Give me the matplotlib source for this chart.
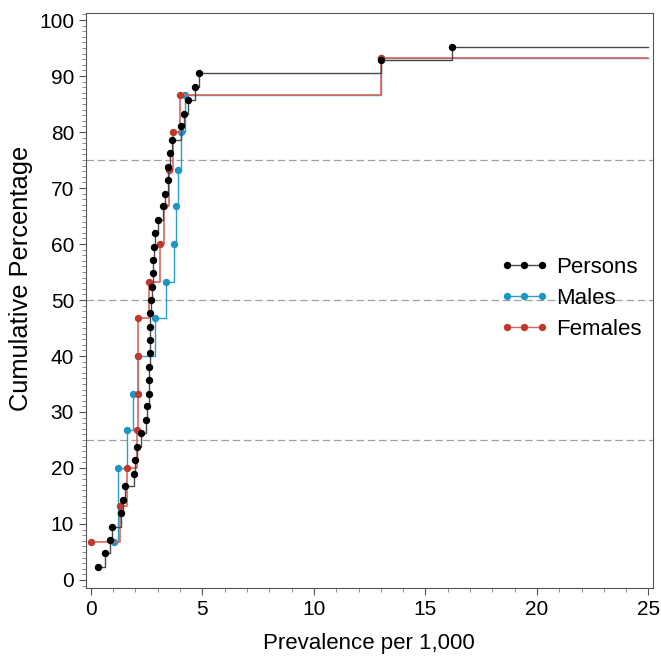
import matplotlib
matplotlib.use("Agg")
import matplotlib.pyplot as plt
import matplotlib.ticker as ticker

plt.rcParams["font.family"] = ["Liberation Sans", "DejaVu Sans"]

# prevalence per 1,000 (x) and cumulative percentage (y)
persons_x = [0.32, 0.62, 0.87, 0.95, 1.37, 1.42, 1.52, 1.94, 2.0, 2.05,
             2.23, 2.49, 2.52, 2.61, 2.61, 2.61, 2.65, 2.65, 2.65, 2.65,
             2.70, 2.72, 2.77, 2.77, 2.83, 2.88, 3.02, 3.24, 3.32, 3.44,
             3.47, 3.54, 3.62, 4.04, 4.18, 4.36, 4.66, 4.84, 13.0, 16.2]
persons_y = [2.4, 4.8, 7.1, 9.5, 11.9, 14.3, 16.7, 19.0, 21.4, 23.8,
             26.2, 28.6, 31.0, 33.3, 35.7, 38.1, 40.5, 42.9, 45.2, 47.6,
             50.0, 52.4, 54.8, 57.1, 59.5, 61.9, 64.3, 66.7, 69.0, 71.4,
             73.8, 76.2, 78.6, 81.0, 83.3, 85.7, 88.1, 90.5, 92.9, 95.2]

males_x = [1.05, 1.22, 1.63, 1.91, 2.12, 2.89, 3.36, 3.74, 3.84, 3.91,
           4.03, 4.20, 13.0]
males_y = [6.7, 20.0, 26.7, 33.3, 40.0, 46.7, 53.3, 60.0, 66.7, 73.3,
           80.0, 86.7, 93.3]

females_x = [0.0, 1.30, 1.64, 2.05, 2.12, 2.12, 2.12, 2.61, 3.12, 3.29,
             3.51, 3.69, 3.99, 13.0]
females_y = [6.7, 13.3, 20.0, 26.7, 33.3, 40.0, 46.7, 53.3, 60.0, 66.7,
             73.3, 80.0, 86.7, 93.3]

ref_lines = [25, 50, 75]
x_end = 25

fig = plt.figure(figsize=(6.61, 6.58), dpi=100)
ax = fig.add_axes([0.130, 0.1064, 0.8575, 0.8738])

for y in ref_lines:
    ax.axhline(y, color="#a0a0a0", lw=0.9, ls=(0, (6, 3)), zorder=1)

# name, x, y, marker colour, line colour, line width, zorder
series = [
    ("Persons", persons_x, persons_y, "#000000", "#4a4a4a", 1.0, 4),
    ("Males", males_x, males_y, "#1e96c3", "#2b9fcb", 1.0, 2),
    ("Females", females_x, females_y, "#c0392f", "#d8675c", 1.2, 3),
]
for name, xs, ys, mc, lc, lw, z in series:
    ax.plot(xs + [x_end], ys + [ys[-1]], drawstyle="steps-post",
            color=lc, lw=lw, zorder=z)
    ax.plot(xs, ys, ls="none", marker="o", ms=4.3, color=mc, zorder=z + 0.5)

# legend handles
handles = []
for name, xs, ys, mc, lc, lw, z in series:
    h, = ax.plot([], [], color=lc, lw=1.0, marker="o", ms=4.3,
                 mfc=mc, mec=mc, label=name)
    handles.append(h)
ax.legend(handles=handles, loc="center left", bbox_to_anchor=(0.695, 0.504),
          frameon=False, fontsize=16, numpoints=3, handlelength=2.2,
          handletextpad=0.35, labelspacing=0.45)

ax.set_xlim(-0.22, 25.19)
ax.set_ylim(-1.43, 101.25)
ax.xaxis.set_major_locator(ticker.MultipleLocator(5))
ax.xaxis.set_minor_locator(ticker.MultipleLocator(1))
ax.yaxis.set_major_locator(ticker.MultipleLocator(10))
ax.yaxis.set_minor_locator(ticker.MultipleLocator(1))
ax.tick_params(which="major", length=5, width=0.8, color="#555555",
               labelsize=15, direction="out")
ax.tick_params(which="minor", length=3, width=0.6, color="#777777",
               direction="out")
for s in ax.spines.values():
    s.set_color("#555555")
    s.set_linewidth(0.8)

ax.set_xlabel("Prevalence per 1,000", fontsize=16, labelpad=10)
ax.set_ylabel("Cumulative Percentage", fontsize=18.3)
ax.yaxis.set_label_coords(-0.093, 0.539)

fig.savefig("out.png", dpi=100)
